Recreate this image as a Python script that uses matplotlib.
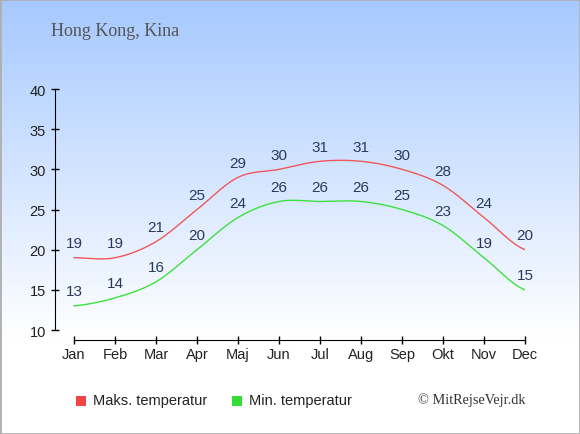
import numpy as np
import matplotlib
matplotlib.use("Agg")
import matplotlib.pyplot as plt
from matplotlib.colors import LinearSegmentedColormap

months = ["Jan", "Feb", "Mar", "Apr", "Maj", "Jun", "Jul", "Aug", "Sep", "Okt", "Nov", "Dec"]
max_temp = [19, 19, 21, 25, 29, 30, 31, 31, 30, 28, 24, 20]
min_temp = [13, 14, 16, 20, 24, 26, 26, 26, 25, 23, 19, 15]
yticks = [10, 15, 20, 25, 30, 35, 40]
title = "Hong Kong, Kina"
legend_labels = ["Maks. temperatur", "Min. temperatur"]
credit = "\u00a9 MitRejseVejr.dk"

RED = "#f05858"
GREEN = "#3ee03e"
LABEL = "#2b3a5c"


def smooth(xs, ys, n=30):
    xs = np.asarray(xs, float)
    ys = np.asarray(ys, float)
    px = np.concatenate([[2 * xs[0] - xs[1]], xs, [2 * xs[-1] - xs[-2]]])
    py = np.concatenate([[ys[0]], ys, [ys[-1]]])
    ox, oy = [], []
    t = np.linspace(0, 1, n, endpoint=False)
    for i in range(1, len(px) - 2):
        p0, p1, p2, p3 = py[i - 1], py[i], py[i + 1], py[i + 2]
        q0, q1, q2, q3 = px[i - 1], px[i], px[i + 1], px[i + 2]
        k = 0.5
        m1y, m2y = k * (p2 - p0), k * (p3 - p1)
        m1x, m2x = k * (q2 - q0), k * (q3 - q1)
        h00 = 2 * t**3 - 3 * t**2 + 1
        h10 = t**3 - 2 * t**2 + t
        h01 = -2 * t**3 + 3 * t**2
        h11 = t**3 - t**2
        ox.append(h00 * q1 + h10 * m1x + h01 * q2 + h11 * m2x)
        oy.append(h00 * p1 + h10 * m1y + h01 * p2 + h11 * m2y)
    ox.append([xs[-1]])
    oy.append([ys[-1]])
    return np.concatenate(ox), np.concatenate(oy)


fig = plt.figure(figsize=(5.8, 4.35), dpi=100)

# background gradient
bg = fig.add_axes([0, 0, 1, 1], zorder=0)
cmap = LinearSegmentedColormap.from_list("bg", [(0, "#a6c9ff"), (0.78, "#ffffff"), (1, "#ffffff")])
grad = np.linspace(0, 1, 256).reshape(-1, 1)
bg.imshow(grad, aspect="auto", cmap=cmap, extent=[0, 1, 0, 1], origin="upper")
bg.set_xlim(0, 1)
bg.set_ylim(0, 1)
bg.axis("off")
bg.add_patch(plt.Rectangle((0, 0), 1, 1, fill=False, edgecolor="#b0b0b0", linewidth=2, transform=bg.transAxes))

ax = fig.add_axes([55 / 580, 1 - 341 / 435, (525 - 55) / 580, (341 - 90) / 435], zorder=1)
ax.patch.set_alpha(0)
x = np.arange(len(months))
for vals, col in [(max_temp, RED), (min_temp, GREEN)]:
    sx, sy = smooth(x, vals)
    ax.plot(sx, sy, color=col, linewidth=1.0)
    for xi, v in zip(x, vals):
        ax.annotate(str(v), (xi, v), xytext=(0, 5.5), textcoords="offset points",
                    ha="center", va="bottom", fontsize=11, color=LABEL, family="Liberation Sans")

ax.set_xlim(-19 / 41, 11)
ax.set_ylim(10 - 10 * 5 / 40.2, 40)
ax.set_xticks(x)
ax.set_xticklabels(months)
ax.set_yticks(yticks)
for s in ["top", "right"]:
    ax.spines[s].set_visible(False)
ax.spines["left"].set_bounds(10, 40)
ax.spines["bottom"].set_bounds(0, 11)
ax.tick_params(axis="both", labelsize=10.5, colors="black", direction="inout", length=6, width=1)
ax.tick_params(axis="x", pad=2)
for lbl in ax.get_xticklabels() + ax.get_yticklabels():
    lbl.set_family("Liberation Sans")
    lbl.set_color("#222222")

fig.text(51 / 580, 1 - 32 / 435, title, family="Liberation Serif", fontsize=13, color="#555555", va="center", ha="left")

# legend
for i, (lab, col, x0) in enumerate([(legend_labels[0], "#ee4444", 76), (legend_labels[1], "#33dd33", 232)]):
    fig.patches.append(plt.Rectangle((x0 / 580, 1 - 407 / 435), 10 / 580, 10 / 435, transform=fig.transFigure,
                                     facecolor=col, edgecolor="none"))
    fig.text((x0 + 17) / 580, 1 - 401 / 435, lab, family="Liberation Sans", fontsize=10.5, color="#222222",
             va="center", ha="left")
fig.text(526 / 580, 1 - 400 / 435, credit, family="Liberation Serif", fontsize=10.3, color="#333333",
         va="center", ha="right")

fig.savefig("out.png", dpi=100)
